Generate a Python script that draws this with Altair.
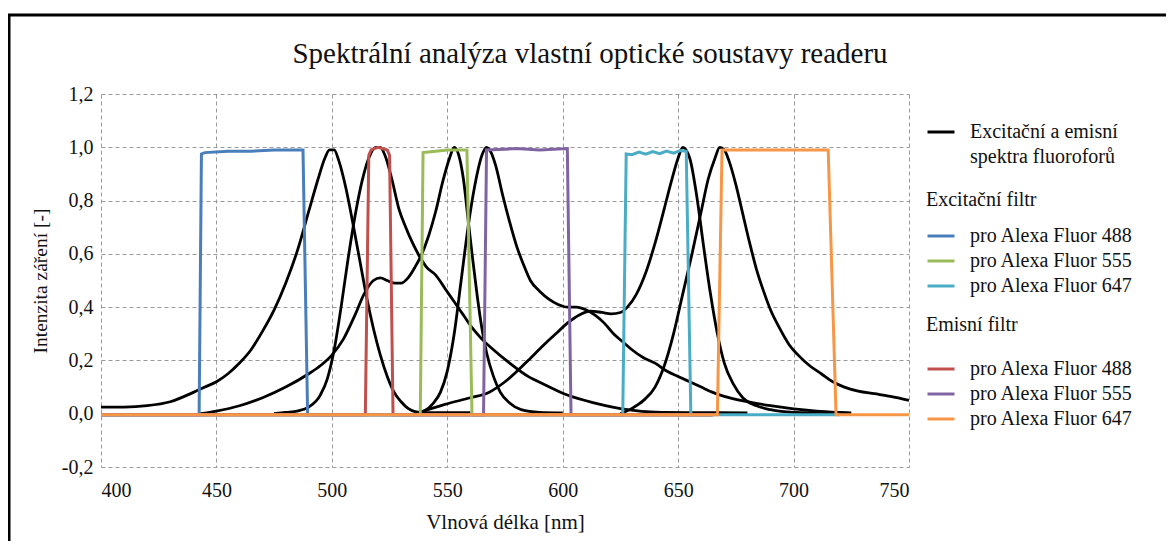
import altair as alt
import pandas as pd

# ---------------- data ----------------
# Fluorophore spectra (black)
ex488_wl = [400, 410, 420, 430, 440, 445, 450, 455, 460, 465, 470, 475, 480, 485, 490, 494, 497, 499, 501, 503, 506, 509, 512, 515, 518, 521, 524, 527, 530, 533, 536, 540, 560]
ex488_val = [0.025, 0.025, 0.03, 0.045, 0.08, 0.1, 0.12, 0.15, 0.19, 0.24, 0.31, 0.39, 0.49, 0.61, 0.76, 0.88, 0.96, 0.99, 0.99, 0.95, 0.85, 0.72, 0.58, 0.44, 0.32, 0.22, 0.14, 0.08, 0.045, 0.02, 0.008, 0.004, 0.004]

em488_wl = [475, 480, 485, 490, 495, 498, 501, 504, 507, 510, 513, 516, 519, 521, 523, 526, 529, 532, 535, 538, 541, 545, 549, 553, 557, 561, 565, 570, 577, 585, 592, 602, 614, 628, 640, 660, 680]
em488_val = [0.0, 0.005, 0.01, 0.025, 0.07, 0.13, 0.24, 0.4, 0.58, 0.74, 0.87, 0.96, 1.0, 1.0, 0.97, 0.88, 0.77, 0.7, 0.64, 0.59, 0.55, 0.52, 0.47, 0.42, 0.37, 0.32, 0.28, 0.24, 0.19, 0.14, 0.11, 0.07, 0.04, 0.015, 0.006, 0.004, 0.003]

ex555_wl = [443, 450, 460, 470, 480, 490, 495, 500, 505, 510, 514, 518, 521, 524, 527, 530, 533, 536, 539, 542, 545, 548, 551, 553, 555, 557, 559, 561, 563, 565, 567, 570, 573, 577, 582, 590, 600]
ex555_val = [0.0, 0.01, 0.03, 0.06, 0.1, 0.15, 0.18, 0.22, 0.28, 0.37, 0.45, 0.5, 0.51, 0.5, 0.49, 0.49, 0.51, 0.55, 0.6, 0.67, 0.76, 0.87, 0.96, 1.0, 0.97, 0.88, 0.73, 0.58, 0.44, 0.32, 0.23, 0.14, 0.08, 0.04, 0.015, 0.005, 0.003]

em555_wl = [536, 540, 544, 547, 550, 553, 556, 559, 562, 565, 567, 569, 571, 574, 577, 580, 583, 586, 590, 594, 598, 602, 606, 610, 614, 618, 622, 626, 630, 635, 640, 645, 650, 655, 660, 665, 670, 680, 690, 700, 710, 720, 725]
em555_val = [0.0, 0.01, 0.04, 0.08, 0.16, 0.3, 0.5, 0.7, 0.86, 0.97, 1.0, 0.98, 0.93, 0.82, 0.72, 0.63, 0.56, 0.5, 0.46, 0.43, 0.41, 0.4, 0.4, 0.39, 0.37, 0.34, 0.3, 0.27, 0.24, 0.21, 0.19, 0.16, 0.14, 0.12, 0.1, 0.08, 0.065, 0.045, 0.03, 0.018, 0.01, 0.005, 0.003]

ex647_wl = [538, 549, 560, 568, 575, 585, 592, 597, 602, 607, 612, 617, 621, 625, 628, 632, 636, 640, 644, 647, 650, 652, 655, 658, 661, 664, 667, 670, 674, 678, 684, 690, 700, 720]
ex647_val = [0.005, 0.035, 0.06, 0.08, 0.12, 0.2, 0.26, 0.3, 0.34, 0.37, 0.385, 0.38, 0.375, 0.38, 0.4, 0.45, 0.53, 0.64, 0.77, 0.87, 0.96, 1.0, 0.96, 0.82, 0.63, 0.45, 0.3, 0.19, 0.11, 0.06, 0.03, 0.015, 0.005, 0.002]

em647_wl = [625, 630, 635, 640, 644, 648, 652, 656, 660, 663, 666, 668, 670, 672, 675, 678, 681, 684, 687, 690, 694, 698, 702, 707, 712, 717, 722, 728, 735, 742, 750]
em647_val = [0.0, 0.02, 0.05, 0.1, 0.18, 0.3, 0.45, 0.6, 0.76, 0.88, 0.96, 1.0, 0.99, 0.95, 0.86, 0.75, 0.64, 0.54, 0.46, 0.39, 0.32, 0.26, 0.22, 0.18, 0.15, 0.12, 0.1, 0.085, 0.075, 0.065, 0.05]

# Excitation filters
fex488_wl = [400, 442.5, 443.5, 445, 455, 465, 475, 487.5, 489.5, 665]
fex488_val = [-0.004, -0.004, 0.975, 0.98, 0.985, 0.985, 0.99, 0.99, -0.004, -0.004]
fex555_wl = [400, 538.3, 539.5, 545, 550, 558.5, 560.7, 665]
fex555_val = [-0.004, -0.004, 0.98, 0.985, 0.99, 0.99, -0.004, -0.004]
fex647_wl = [400, 626, 627.5, 630, 633, 636, 639, 642, 645, 648, 651, 653.5, 655.5, 720]
fex647_val = [-0.004, -0.004, 0.975, 0.972, 0.982, 0.974, 0.984, 0.976, 0.986, 0.978, 0.988, 0.985, -0.004, -0.004]

# Emission filters
fem488_wl = [400, 514.5, 516, 517, 520, 524, 525, 526.5, 665]
fem488_val = [-0.004, -0.004, 0.97, 0.99, 1.0, 0.99, 0.97, -0.004, -0.004]
fem555_wl = [400, 565.7, 567, 580, 590, 602, 603.6, 665]
fem555_val = [-0.004, -0.004, 0.99, 0.995, 0.99, 0.995, -0.004, -0.004]
fem647_wl = [400, 667, 669, 690, 715, 718.4, 750]
fem647_val = [-0.004, -0.004, 0.99, 0.99, 0.99, -0.004, -0.004]

title_text = "Spektrální analýza vlastní optické soustavy readeru"
spectra_labels = ["Excitační a emisní", "spektra fluoroforů"]
filter_labels = ["pro Alexa Fluor 488", "pro Alexa Fluor 555", "pro Alexa Fluor 647"]
ex_colors = ["#4a7ebb", "#9bbb59", "#4bacc6"]
em_colors = ["#c0504d", "#8064a2", "#f79646"]

x_ticks = [400, 450, 500, 550, 600, 650, 700, 750]
y_ticks = [-0.2, 0.0, 0.2, 0.4, 0.6, 0.8, 1.0, 1.2]

# ---------------- table ----------------
rows = []
def add(series, group, label, wl, val):
    for i, (w, v) in enumerate(zip(wl, val)):
        rows.append({"wl": w, "val": v, "series": series, "group": group, "legend": label, "idx": i})

add("ex488", "spectra", spectra_labels[0], ex488_wl, ex488_val)
add("em488", "spectra", spectra_labels[0], em488_wl, em488_val)
add("ex555", "spectra", spectra_labels[0], ex555_wl, ex555_val)
add("em555", "spectra", spectra_labels[0], em555_wl, em555_val)
add("ex647", "spectra", spectra_labels[0], ex647_wl, ex647_val)
add("em647", "spectra", spectra_labels[0], em647_wl, em647_val)
add("fex488", "ex", filter_labels[0], fex488_wl, fex488_val)
add("fex555", "ex", filter_labels[1], fex555_wl, fex555_val)
add("fex647", "ex", filter_labels[2], fex647_wl, fex647_val)
add("fem488", "em", filter_labels[0], fem488_wl, fem488_val)
add("fem555", "em", filter_labels[1], fem555_wl, fem555_val)
add("fem647", "em", filter_labels[2], fem647_wl, fem647_val)
df = pd.DataFrame(rows)

FONT = "Liberation Serif, Times New Roman, serif"

x_enc = alt.X("wl:Q", scale=alt.Scale(domain=[400, 750], nice=False, zero=False),
              axis=alt.Axis(values=x_ticks, title="Vlnová délka [nm]", format="d", titleFontSize=21))
y_enc = alt.Y("val:Q", scale=alt.Scale(domain=[-0.2, 1.2], nice=False, zero=False),
              axis=alt.Axis(values=y_ticks, title="Intenzita záření [-]", titleFontSize=19.5,
                            labelExpr="replace(replace(format(datum.value, '.1f'), '.', ','), '\u2212', '-')"))

leg_common = dict(orient="none", symbolType="stroke", symbolSize=729, symbolStrokeWidth=3,
                  labelFont=FONT, labelFontSize=20, labelColor="#111", labelOffset=14,
                  labelLimit=400, titleFont=FONT, titleFontSize=20, titleFontWeight="normal",
                  titleColor="#111", padding=0, legendX=825)

base = alt.Chart(df)

spectra = base.transform_filter(alt.datum.group == "spectra").mark_line(
    strokeWidth=2.8, interpolate="monotone").encode(
    x=x_enc, y=y_enc,
    color=alt.Color("legend:N", scale=alt.Scale(domain=spectra_labels, range=["#000000", "rgba(0,0,0,0)"]),
                    legend=alt.Legend(title=None, legendY=23, rowPadding=0, **leg_common)),
    detail="series:N", order="idx:Q")

exf = base.transform_filter(alt.datum.group == "ex").mark_line(strokeWidth=3).encode(
    x=x_enc, y=y_enc,
    color=alt.Color("legend:N", scale=alt.Scale(domain=filter_labels, range=ex_colors),
                    legend=alt.Legend(title="Excitační filtr", legendY=96, rowPadding=0, titlePadding=11, **leg_common)),
    detail="series:N", order="idx:Q")

emf = base.transform_filter(alt.datum.group == "em").mark_line(strokeWidth=3).encode(
    x=x_enc, y=y_enc,
    color=alt.Color("legend:N", scale=alt.Scale(domain=filter_labels, range=em_colors),
                    legend=alt.Legend(title="Emisní filtr", legendY=221, rowPadding=0, titlePadding=19, **leg_common)),
    detail="series:N", order="idx:Q")

one = pd.DataFrame({"t": [title_text]})
frame_top = alt.Chart(one).mark_rule(color="black", strokeWidth=3).encode(
    x=alt.value(-93), x2=alt.value(1073), y=alt.value(-79))
frame_left = alt.Chart(one).mark_rule(color="black", strokeWidth=3).encode(
    x=alt.value(-92), y=alt.value(-80), y2=alt.value(460))
title = alt.Chart(one).mark_text(font=FONT, fontSize=29, color="#111", align="center", baseline="alphabetic").encode(
    text="t:N", x=alt.value(489), y=alt.value(-31))

chart = alt.layer(spectra, exf, emf, frame_top, frame_left, title).resolve_scale(color="independent").properties(
    width=808, height=373,
    autosize="none",
    padding={"left": 93, "top": 86, "right": 257, "bottom": 74},
).configure_view(stroke=None).configure_axis(
    labelFont=FONT, labelFontSize=20, labelColor="#111", titleFont=FONT, titleFontSize=19,
    titleFontWeight="normal", titleColor="#111", grid=True, gridColor="#9a9a9a", gridDash=[4, 3],
    gridWidth=1, domain=False, ticks=False,
).configure_axisX(labelPadding=13, titlePadding=11).configure_axisY(labelPadding=8, titlePadding=11)

chart.save("out.html", embed_options={"renderer": "svg", "actions": False})
